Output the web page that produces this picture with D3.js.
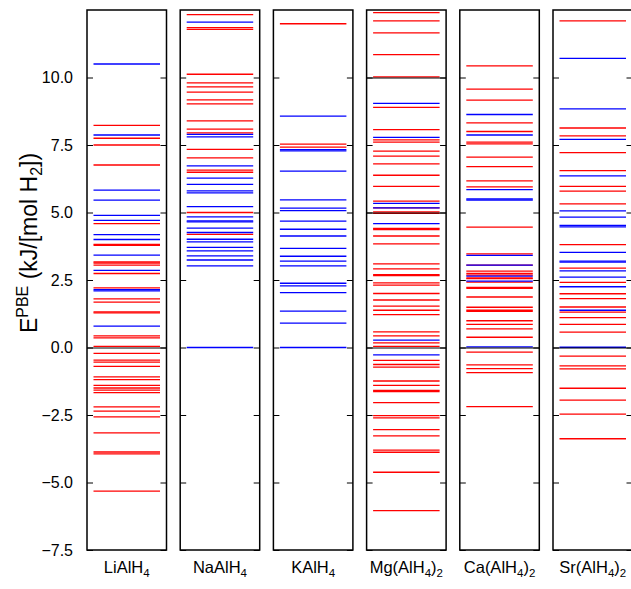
<!DOCTYPE html>
<html>
<head>
<meta charset="utf-8">
<script src="https://cdn.jsdelivr.net/npm/d3@7"></script>
<style>
  body { margin: 0; background: #fff; }
  text { font-family: "Liberation Sans", Arial, Helvetica, sans-serif; fill: #000; }
</style>
</head>
<body>
<svg id="chart" width="631" height="589"></svg>
<script>
// compounds, left to right
const compounds = ["LiAlH4", "NaAlH4", "KAlH4", "Mg(AlH4)2", "Ca(AlH4)2", "Sr(AlH4)2"];

// energies (kJ/[mol H2]), red and blue levels per compound
const liRed = [8.23, 7.75, 7.50, 6.76, 4.59, 3.82, 3.78, 3.17, 3.13, 3.05, 2.74, 2.21, 1.80, 1.68, 1.32, 1.28,
  0.43, 0.36, 0.04, -0.22, -0.47, -0.54, -0.70, -1.09, -1.19, -1.40, -1.50, -1.58, -1.67, -2.20, -2.36, -2.57,
  -3.16, -3.87, -3.94, -5.32];
const liBlue = [10.50, 7.87, 5.83, 5.46, 4.89, 4.71, 4.18, 4.00, 3.42, 2.86, 2.14, 2.10, 0.79];

const naRed = [12.33, 11.85, 11.78, 10.12, 9.80, 9.65, 9.46, 9.17, 9.02, 8.39, 8.09, 7.95, 7.34, 7.02, 6.57, 6.49,
  5.00, 4.19];
const naBlue = [12.05, 7.89, 7.80, 6.73, 6.27, 6.04, 5.80, 5.73, 5.22, 4.84, 4.69, 4.65, 4.42, 4.26, 4.01, 3.91,
  3.71, 3.58, 3.39, 3.24, 3.02, 0.00];

const kRed = [11.99, 7.53, 7.42];
const kBlue = [8.57, 7.33, 7.28, 6.53, 5.47, 5.16, 5.07, 4.68, 4.38, 4.13, 3.67, 3.38, 3.20, 3.02, 2.38, 2.28,
  2.03, 1.35, 0.90, 0.00];

const mgRed = [12.40, 12.10, 11.65, 10.85, 10.02, 8.89, 8.07, 7.69, 7.61, 7.27, 7.09, 6.80, 6.38, 5.97, 5.42, 5.17,
  5.02, 4.97, 4.41, 4.37, 4.13, 3.84, 3.10, 2.91, 2.70, 2.66, 2.39, 2.31, 2.00, 1.76, 1.53, 1.38, 1.22, 0.58,
  0.43, 0.17, 0.04, -0.48, -0.63, -0.73, -1.24, -1.40, -1.59, -1.63, -2.04, -2.52, -2.61, -3.04, -3.27, -3.80,
  -3.88, -4.62, -6.04];
const mgBlue = [9.04, 7.78, 5.34, 5.17, 4.59, 0.27, -0.27];

const caRed = [10.43, 9.57, 9.16, 8.32, 8.00, 7.61, 7.54, 7.05, 6.70, 6.17, 5.95, 4.46, 3.47, 3.05, 2.83, 2.74,
  2.68, 2.58, 2.55, 2.42, 2.23, 2.19, 1.87, 1.49, 1.38, 1.34, 0.99, 0.86, 0.69, 0.38, -0.17, -0.64, -0.78,
  -0.93, -2.19];
const caBlue = [8.63, 7.87, 5.85, 5.50, 5.46, 3.41, 3.05, 2.64, 2.46, 0.02];

const srRed = [12.10, 8.13, 7.84, 7.22, 6.55, 5.97, 5.79, 5.32, 3.81, 2.94, 2.41, 1.99, 1.81, 1.50, 1.31, 1.11,
  0.86, 0.57, -0.32, -0.68, -0.79, -1.51, -1.95, -2.47, -3.38];
const srBlue = [10.71, 8.84, 7.71, 6.36, 5.06, 4.83, 4.52, 4.47, 3.52, 3.20, 3.16, 2.84, 2.61, 2.25, 1.38, 0.01];

const redSets = [liRed, naRed, kRed, mgRed, caRed, srRed];
const blueSets = [liBlue, naBlue, kBlue, mgBlue, caBlue, srBlue];

// full-width dark reference lines per panel
const refLines = [[0], [], [], [10, 5, 0], [0], [0]];

const yTicks = [-7.5, -5.0, -2.5, 0.0, 2.5, 5.0, 7.5, 10.0];

const svg = d3.select("#chart");

const y = d3.scaleLinear().domain([-7.5, 12.5]).range([550, 10]);
const x = d3.scaleBand().domain(compounds).range([87, 632.5]).paddingInner(0.147).paddingOuter(0);
const bw = x.bandwidth();
const inset = 6.5;
const tickLen = 6;

compounds.forEach((c, i) => {
  const g = svg.append("g").attr("transform", `translate(${x(c)},0)`);

  const levels = redSets[i].map(v => ({ v, col: "#ff0000" }))
    .concat(blueSets[i].map(v => ({ v, col: "#0000ff" })));

  g.selectAll("line.level")
    .data(levels)
    .join("line")
    .attr("class", "level")
    .attr("x1", inset).attr("x2", bw - inset)
    .attr("y1", d => y(d.v)).attr("y2", d => y(d.v))
    .attr("stroke", d => d.col)
    .attr("stroke-width", 1.3);

  g.selectAll("line.ref")
    .data(refLines[i])
    .join("line")
    .attr("class", "ref")
    .attr("x1", 0).attr("x2", bw)
    .attr("y1", d => y(d) + 0.5).attr("y2", d => y(d) + 0.5)
    .attr("stroke", "#000").attr("stroke-width", 1);

  // inward ticks on both sides
  const left = d3.axisLeft(y).tickValues(yTicks).tickSizeInner(-tickLen).tickSizeOuter(0).tickPadding(14);
  const right = d3.axisRight(y).tickValues(yTicks).tickSizeInner(-tickLen).tickSizeOuter(0).tickFormat("");

  const ga = g.append("g").call(left);
  ga.select(".domain").remove();
  ga.selectAll(".tick line").attr("stroke", "#000");
  ga.selectAll(".tick text")
    .attr("font-size", 16)
    .attr("font-family", "Liberation Sans, Arial, sans-serif")
    .text(d => d3.format(".1f")(d).replace("-", "\u2212"))
    .style("display", i === 0 ? null : "none");

  const gb = g.append("g").attr("transform", `translate(${bw},0)`).call(right);
  gb.select(".domain").remove();
  gb.selectAll(".tick line").attr("stroke", "#000");

  // frame
  g.append("rect")
    .attr("x", 0).attr("y", y(12.5))
    .attr("width", bw).attr("height", y(-7.5) - y(12.5))
    .attr("fill", "none").attr("stroke", "#000").attr("stroke-width", 1.5);

  // compound label with subscripts
  const t = g.append("text")
    .attr("x", bw / 2).attr("y", 577)
    .attr("text-anchor", "middle")
    .attr("font-size", 16.5);
  const parts = c.match(/[A-Za-z()]+|\d+/g);
  parts.forEach(p => {
    if (/^\d+$/.test(p)) {
      t.append("tspan").attr("font-size", 11.5).attr("dy", 4).text(p);
    } else {
      t.append("tspan").attr("dy", t.selectAll("tspan").size() ? -4 : 0).text(p);
    }
  });
});

// y axis label
const yl = svg.append("text")
  .attr("transform", `translate(37,243) rotate(-90)`)
  .attr("text-anchor", "middle")
  .attr("font-size", 23);
yl.append("tspan").text("E");
yl.append("tspan").attr("font-size", 16).attr("dy", -9).text("PBE");
yl.append("tspan").attr("dy", 9).text(" (kJ/[mol H");
yl.append("tspan").attr("font-size", 16).attr("dy", 5).text("2");
yl.append("tspan").attr("dy", -5).text("])");
</script>
</body>
</html>
